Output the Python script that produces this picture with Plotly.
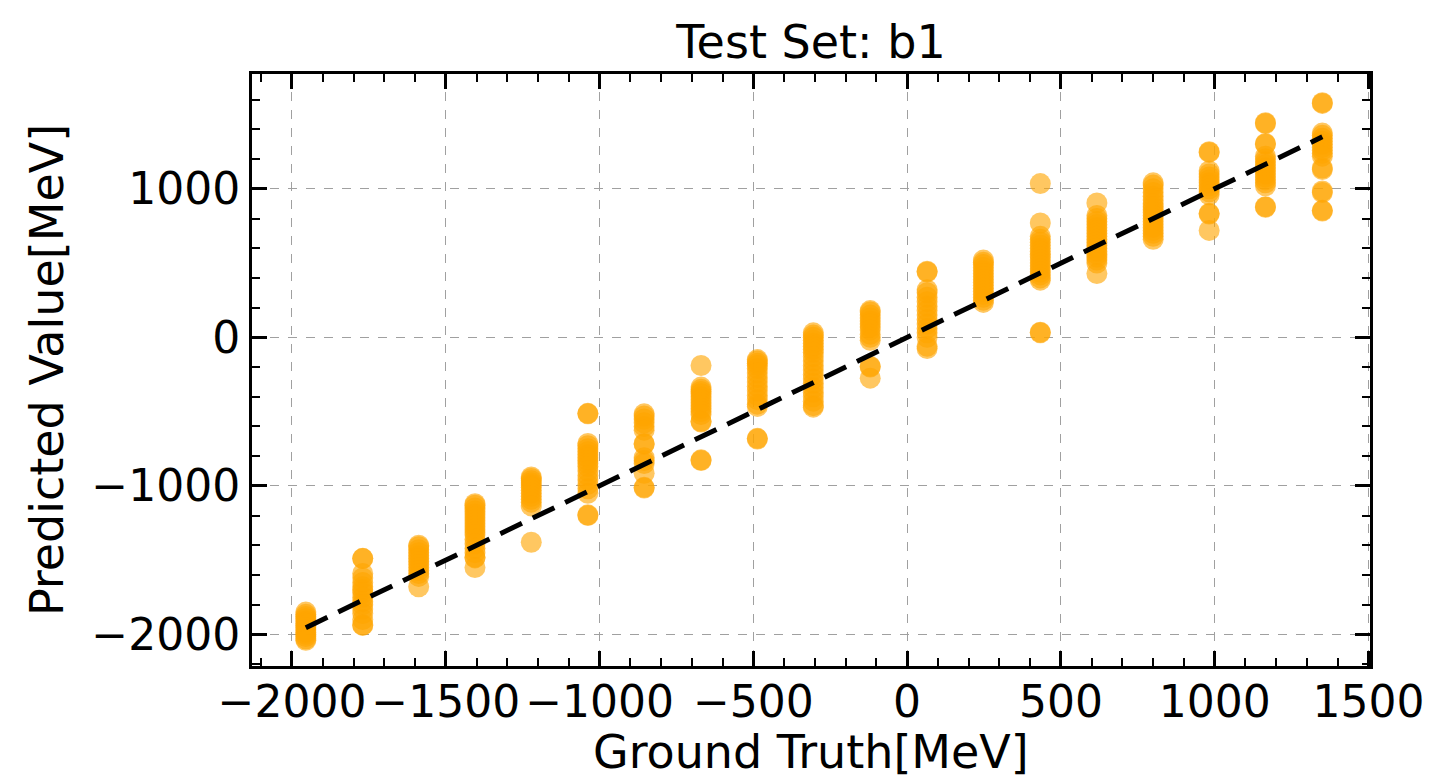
import plotly.graph_objects as go

# Ground-truth energies (x categories, MeV)
ground_truth = [-1955, -1770, -1588, -1405, -1222, -1038, -855, -670, -487, -305,
                -120, 65, 248, 433, 617, 800, 982, 1165, 1350]

# Predicted values for each ground-truth column (MeV)
pred_c01 = [-1850, -1865, -1880, -1895, -1910, -1925, -1940, -1955, -1970, -1985, -2000, -2015, -2030, -2040]
pred_c02 = [-1488, -1490, -1590, -1620, -1650, -1680, -1700, -1720, -1750, -1780, -1800, -1830, -1860, -1900, -1935, -1940]
pred_c03 = [-1400, -1410, -1430, -1450, -1470, -1490, -1510, -1530, -1550, -1570, -1590, -1610, -1680]
pred_c04 = [-1120, -1130, -1150, -1170, -1190, -1210, -1230, -1250, -1270, -1290, -1310, -1330, -1360, -1390, -1420, -1450, -1480, -1485, -1550]
pred_c05 = [-940, -950, -965, -980, -995, -1010, -1030, -1050, -1070, -1090, -1110, -1135, -1380]
pred_c06 = [-512, -515, -715, -730, -750, -770, -790, -810, -830, -850, -870, -900, -930, -960, -990, -1020, -1050, -1195, -1200]
pred_c07 = [-515, -530, -550, -575, -600, -625, -715, -720, -810, -830, -850, -915, -1010, -1015]
pred_c08 = [-190, -335, -350, -365, -380, -400, -420, -440, -460, -480, -500, -520, -565, -570, -825, -830]
pred_c09 = [-150, -160, -175, -190, -210, -240, -270, -300, -330, -360, -390, -420, -450, -465, -680, -685]
pred_c10 = [30, 15, 0, -20, -40, -60, -80, -100, -130, -160, -190, -220, -250, -280, -310, -340, -370, -400, -430, -460, -470]
pred_c11 = [180, 170, 150, 130, 110, 90, 70, 50, 20, 0, -20, -195, -200, -275]
pred_c12 = [440, 445, 320, 300, 270, 240, 210, 180, 150, 120, 90, 60, 30, 0, -60, -75]
pred_c13 = [520, 505, 490, 470, 450, 430, 410, 390, 370, 350, 330, 310, 290, 270, 250, 235]
pred_c14 = [1035, 770, 680, 660, 640, 620, 600, 580, 560, 540, 520, 500, 480, 460, 440, 420, 400, 385, 30, 35]
pred_c15 = [905, 820, 800, 780, 760, 740, 720, 700, 680, 660, 640, 620, 600, 580, 560, 540, 520, 500, 430]
pred_c16 = [1040, 1025, 1000, 975, 950, 925, 900, 880, 860, 840, 820, 800, 780, 760, 740, 720, 700, 680, 660]
pred_c17 = [1245, 1250, 1120, 1100, 1080, 1060, 1040, 1020, 1000, 980, 960, 830, 835, 720]
pred_c18 = [1440, 1445, 1300, 1305, 1220, 1200, 1180, 1160, 1140, 1120, 1100, 1080, 1060, 1040, 1020, 880, 875]
pred_c19 = [1580, 1575, 1375, 1360, 1340, 1320, 1300, 1280, 1260, 1240, 1220, 1140, 1130, 985, 975, 855, 850]

columns = [pred_c01, pred_c02, pred_c03, pred_c04, pred_c05, pred_c06, pred_c07, pred_c08, pred_c09,
           pred_c10, pred_c11, pred_c12, pred_c13, pred_c14, pred_c15, pred_c16, pred_c17, pred_c18, pred_c19]

xs, ys = [], []
for gt, preds in zip(ground_truth, columns):
    xs.extend([gt] * len(preds))
    ys.extend(preds)

FONT = "DejaVu Sans"

fig = go.Figure()
fig.add_trace(go.Scatter(
    x=xs, y=ys, mode="markers",
    marker=dict(color="#FFA500", size=21, opacity=0.62, line=dict(width=0)),
    showlegend=False, hoverinfo="skip"))
fig.add_trace(go.Scatter(
    x=[ground_truth[0], ground_truth[-1]], y=[ground_truth[0], ground_truth[-1]],
    mode="lines", line=dict(color="black", width=5, dash="24px,12px"),
    showlegend=False, hoverinfo="skip"))

axis_common = dict(
    showline=True, linewidth=3, linecolor="black", mirror="allticks",
    ticks="inside", ticklen=15, tickwidth=3, tickcolor="black",
    showgrid=True, gridcolor="#a0a0a0", gridwidth=1, griddash="dash",
    zeroline=False, automargin=False, tickangle=0,
    tickfont=dict(family=FONT, size=44, color="black"),
)

fig.update_xaxes(
    **axis_common, range=[-2130, 1505], tick0=0, dtick=500, ticklabelstandoff=-5,
    minor=dict(ticks="inside", dtick=100, tick0=0, ticklen=8, tickwidth=2, tickcolor="black", showgrid=False),
)
fig.update_yaxes(
    **axis_common, range=[-2213, 1773], tick0=0, dtick=1000,
    minor=dict(ticks="inside", dtick=200, tick0=0, ticklen=8, tickwidth=2, tickcolor="black", showgrid=False),
    title=dict(text="Predicted Value[MeV]", font=dict(family=FONT, size=46, color="black"), standoff=14),
)

fig.add_annotation(
    text="Ground Truth[MeV]", xref="paper", yref="paper", x=0.5, y=0,
    xanchor="center", yanchor="middle", yshift=-86, showarrow=False,
    font=dict(family=FONT, size=46, color="black"))

fig.update_layout(
    width=1435, height=778,
    margin=dict(l=252, r=65, t=74, b=112),
    paper_bgcolor="white", plot_bgcolor="white",
    title=dict(text="Test Set: b1", x=0.5, xref="paper", y=1 - 42 / 778, yref="container",
               yanchor="middle", xanchor="center",
               font=dict(family=FONT, size=46, color="black")),
)

fig.write_html("out.html")
